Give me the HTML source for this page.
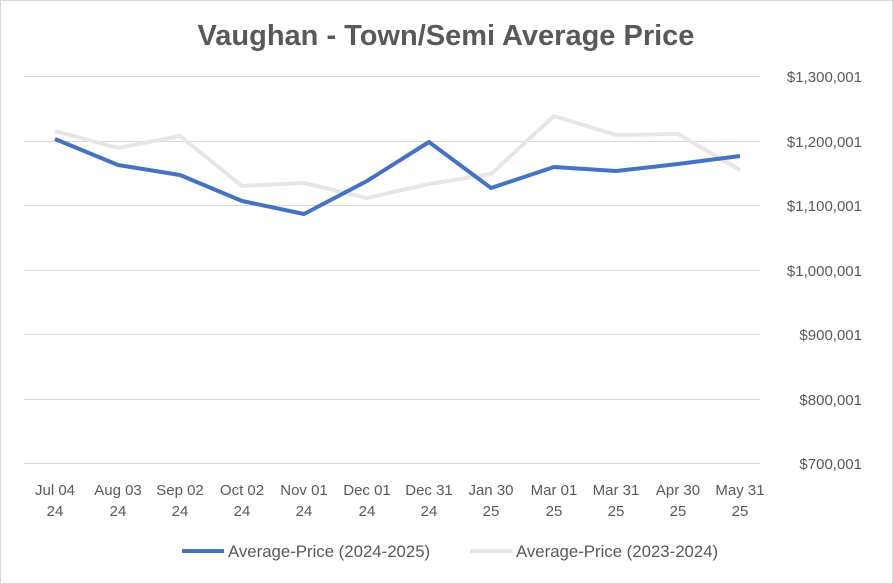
<!DOCTYPE html>
<html><head><meta charset="utf-8"><style>
html,body{margin:0;padding:0;background:#fff;}
body{width:893px;height:584px;overflow:hidden;}
svg{display:block;font-family:"Liberation Sans",sans-serif;}
</style></head><body>
<svg width="893" height="584" viewBox="0 0 893 584">
<rect x="0.5" y="0.5" width="892" height="583" fill="#fff" stroke="#d9d9d9"/>
<text x="446" y="45" text-anchor="middle" font-size="29" font-weight="bold" fill="#595959">Vaughan - Town/Semi Average Price</text>
<g stroke="#d9d9d9" stroke-width="1">
<line x1="24" x2="760" y1="76.5" y2="76.5"/>
<line x1="24" x2="760" y1="141.5" y2="141.5"/>
<line x1="24" x2="760" y1="205.5" y2="205.5"/>
<line x1="24" x2="760" y1="270.5" y2="270.5"/>
<line x1="24" x2="760" y1="334.5" y2="334.5"/>
<line x1="24" x2="760" y1="399.5" y2="399.5"/>
<line x1="24" x2="760" y1="463.5" y2="463.5"/>
</g>
<g font-size="15" fill="#595959" text-anchor="end">
<text x="862" y="82">$1,300,001</text>
<text x="862" y="147">$1,200,001</text>
<text x="862" y="211">$1,100,001</text>
<text x="862" y="276">$1,000,001</text>
<text x="862" y="340">$900,001</text>
<text x="862" y="405">$800,001</text>
<text x="862" y="469">$700,001</text>
</g>
<g font-size="15" fill="#595959" text-anchor="middle">
<text x="55" y="495">Jul 04</text><text x="55" y="516">24</text>
<text x="118" y="495">Aug 03</text><text x="118" y="516">24</text>
<text x="180" y="495">Sep 02</text><text x="180" y="516">24</text>
<text x="242" y="495">Oct 02</text><text x="242" y="516">24</text>
<text x="304" y="495">Nov 01</text><text x="304" y="516">24</text>
<text x="367" y="495">Dec 01</text><text x="367" y="516">24</text>
<text x="429" y="495">Dec 31</text><text x="429" y="516">24</text>
<text x="491" y="495">Jan 30</text><text x="491" y="516">25</text>
<text x="554" y="495">Mar 01</text><text x="554" y="516">25</text>
<text x="616" y="495">Mar 31</text><text x="616" y="516">25</text>
<text x="678" y="495">Apr 30</text><text x="678" y="516">25</text>
<text x="740" y="495">May 31</text><text x="740" y="516">25</text>
</g>
<polyline fill="none" stroke="#e6e6e6" stroke-width="4" stroke-linejoin="round" points="55,131 118,148 180,136 242,186 304,183 367,198 429,184 491,174 554,116 616,135 678,134 740,170"/>
<polyline fill="none" stroke="#4472c4" stroke-width="4" stroke-linejoin="round" points="55,139 118,165 180,175 242,201 304,214 367,181 429,142 491,188 554,167 616,171 678,164 740,156"/>
<line x1="182" x2="224" y1="551" y2="551" stroke="#4472c4" stroke-width="4"/>
<text x="228" y="557" font-size="16.8" fill="#595959">Average-Price (2024-2025)</text>
<line x1="470" x2="512" y1="551" y2="551" stroke="#e6e6e6" stroke-width="4"/>
<text x="516" y="557" font-size="16.8" fill="#595959">Average-Price (2023-2024)</text>
</svg>
</body></html>
